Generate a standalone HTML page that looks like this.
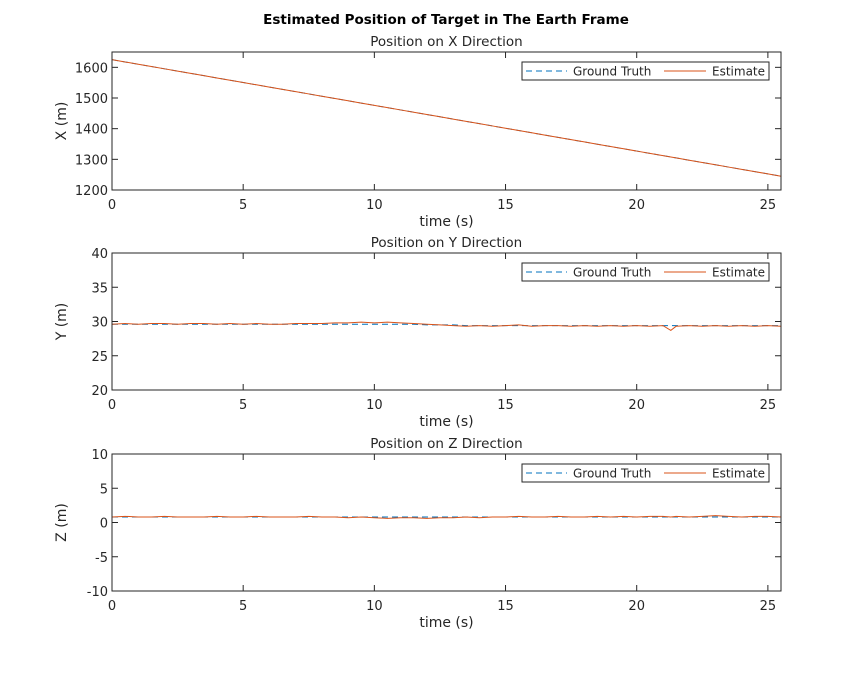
<!DOCTYPE html>
<html><head><meta charset="utf-8"><style>
body{margin:0;background:#fff;}
svg text{font-family:"DejaVu Sans","Liberation Sans",sans-serif;fill:#262626;}
</style></head><body>
<svg id="chart" width="864" height="669" viewBox="0 0 864 669" xmlns="http://www.w3.org/2000/svg">
<rect width="864" height="669" fill="#fff"/>
<text x="446" y="24" text-anchor="middle" font-size="13.5" font-weight="bold" style="fill:#000">Estimated Position of Target in The Earth Frame</text>
</svg>
<script>
const timeS=[0,0.5,1,1.5,2,2.5,3,3.5,4,4.5,5,5.5,6,6.5,7,7.5,8,8.5,9,9.5,10,10.5,11,11.5,12,12.5,13,13.5,14,14.5,15,15.5,16,16.5,17,17.5,18,18.5,19,19.5,20,20.5,21,21.3,21.5,22,22.5,23,23.5,24,24.5,25,25.5];
const gtX0=1625, gtX1=1245;
const estY=[29.6,29.7,29.6,29.7,29.7,29.6,29.7,29.7,29.6,29.7,29.6,29.7,29.6,29.6,29.7,29.7,29.7,29.8,29.8,29.9,29.8,29.9,29.8,29.7,29.6,29.5,29.4,29.3,29.4,29.3,29.4,29.5,29.3,29.4,29.4,29.3,29.4,29.3,29.4,29.3,29.4,29.3,29.4,28.7,29.3,29.4,29.3,29.4,29.3,29.4,29.3,29.4,29.3];
const gtY=[29.6,29.6,29.6,29.6,29.6,29.6,29.6,29.6,29.6,29.6,29.6,29.6,29.6,29.6,29.6,29.6,29.6,29.6,29.6,29.6,29.6,29.6,29.6,29.6,29.5,29.5,29.5,29.4,29.4,29.4,29.4,29.4,29.4,29.4,29.4,29.4,29.4,29.4,29.4,29.4,29.4,29.4,29.4,29.4,29.4,29.4,29.4,29.4,29.4,29.4,29.4,29.4,29.4];
const estZ=[0.8,0.9,0.8,0.8,0.9,0.8,0.8,0.8,0.9,0.8,0.8,0.9,0.8,0.8,0.8,0.9,0.8,0.8,0.7,0.8,0.7,0.6,0.7,0.7,0.6,0.7,0.7,0.8,0.7,0.8,0.8,0.9,0.8,0.8,0.9,0.8,0.8,0.9,0.8,0.9,0.8,0.9,0.9,0.8,0.9,0.8,0.9,1.0,0.9,0.8,0.9,0.9,0.8];
const gtZ=[0.8,0.8,0.8,0.8,0.8,0.8,0.8,0.8,0.8,0.8,0.8,0.8,0.8,0.8,0.8,0.8,0.8,0.8,0.8,0.8,0.8,0.8,0.8,0.8,0.8,0.8,0.8,0.8,0.8,0.8,0.8,0.8,0.8,0.8,0.8,0.8,0.8,0.8,0.8,0.8,0.8,0.8,0.8,0.8,0.8,0.8,0.8,0.8,0.8,0.8,0.8,0.8,0.8];
const xTicks=[0,5,10,15,20,25];
const yTicks1=[1200,1300,1400,1500,1600];
const yTicks2=[20,25,30,35,40];
const yTicks3=[-10,-5,0,5,10];
const NS='http://www.w3.org/2000/svg';
const svg=document.getElementById('chart');
function mk(tag,attrs,parent){const e=document.createElementNS(NS,tag);for(const k in attrs)e.setAttribute(k,attrs[k]);(parent||svg).appendChild(e);return e;}
const L=112,R=781,XMAX=25.5;
function sx(t){return L+(t/XMAX)*(R-L);}
function panel(top,bot,ymin,ymax,yt,title,ylab,gt,est,key){
  const sy=v=>bot-(v-ymin)/(ymax-ymin)*(bot-top);
  const g=mk('g',{});
  
  
  mk('rect',{x:L,y:top,width:R-L,height:bot-top,fill:'#fff',stroke:'none'},g);
  xTicks.forEach(t=>{const x=sx(t);
    mk('line',{x1:x,x2:x,y1:bot,y2:bot-6,stroke:'#262626'},g);
    mk('line',{x1:x,x2:x,y1:top,y2:top+6,stroke:'#262626'},g);
    const tx=mk('text',{x:x,y:bot+19,'text-anchor':'middle','font-size':13},g);tx.textContent=t;
    
    });
  yt.forEach(v=>{const y=sy(v);
    mk('line',{x1:L,x2:L+6,y1:y,y2:y,stroke:'#262626'},g);
    mk('line',{x1:R,x2:R-6,y1:y,y2:y,stroke:'#262626'},g);
    const tx=mk('text',{x:L-4,y:y+5,'text-anchor':'end','font-size':13},g);tx.textContent=v;
    
    });
  const gp=gt.map((v,i)=>sx(timeS[i])+','+sy(v)).join(' ');
  const ep=est.map((v,i)=>sx(timeS[i])+','+sy(v)).join(' ');
  const l1=mk('polyline',{points:gp,fill:'none',stroke:'#0072BD','stroke-width':1,'stroke-dasharray':'6,4'},g);
  
  
  const l2=mk('polyline',{points:ep,fill:'none',stroke:'#D95319','stroke-width':1},g);
  
  
  mk('rect',{x:L,y:top,width:R-L,height:bot-top,fill:'none',stroke:'#262626'},g);
  const tt=mk('text',{x:(L+R)/2,y:top-6,'text-anchor':'middle','font-size':13.5},g);tt.textContent=title;
  
  
  const xl=mk('text',{x:(L+R)/2,y:bot+36,'text-anchor':'middle','font-size':14},g);xl.textContent='time (s)';
  
  
  const cy=(top+bot)/2;
  const yl=mk('text',{x:66,y:cy,'text-anchor':'middle','font-size':14,transform:'rotate(-90 66 '+cy+')'},g);yl.textContent=ylab;
  
  
  const lg=mk('g',{},g);
  
  
  const ly=top+10;
  mk('rect',{x:522,y:ly,width:247,height:18,fill:'#fff',stroke:'#262626'},lg);
  mk('line',{x1:526,x2:567,y1:ly+9,y2:ly+9,stroke:'#0072BD','stroke-dasharray':'6,4'},lg);
  const a=mk('text',{x:573,y:ly+13.5,'font-size':12},lg);a.textContent='Ground Truth';
  
  
  mk('line',{x1:664,x2:706,y1:ly+9,y2:ly+9,stroke:'#D95319'},lg);
  const b=mk('text',{x:712,y:ly+13.5,'font-size':12},lg);b.textContent='Estimate';
  
  
}
const gtX=timeS.map(t=>gtX0+(gtX1-gtX0)*t/XMAX);
panel(52,190,1200,1650,yTicks1,'Position on X Direction','X (m)',gtX,gtX,'x');
panel(253,390,20,40,yTicks2,'Position on Y Direction','Y (m)',gtY,estY,'y');
panel(454,591,-10,10,yTicks3,'Position on Z Direction','Z (m)',gtZ,estZ,'z');
</script>
</body></html>
